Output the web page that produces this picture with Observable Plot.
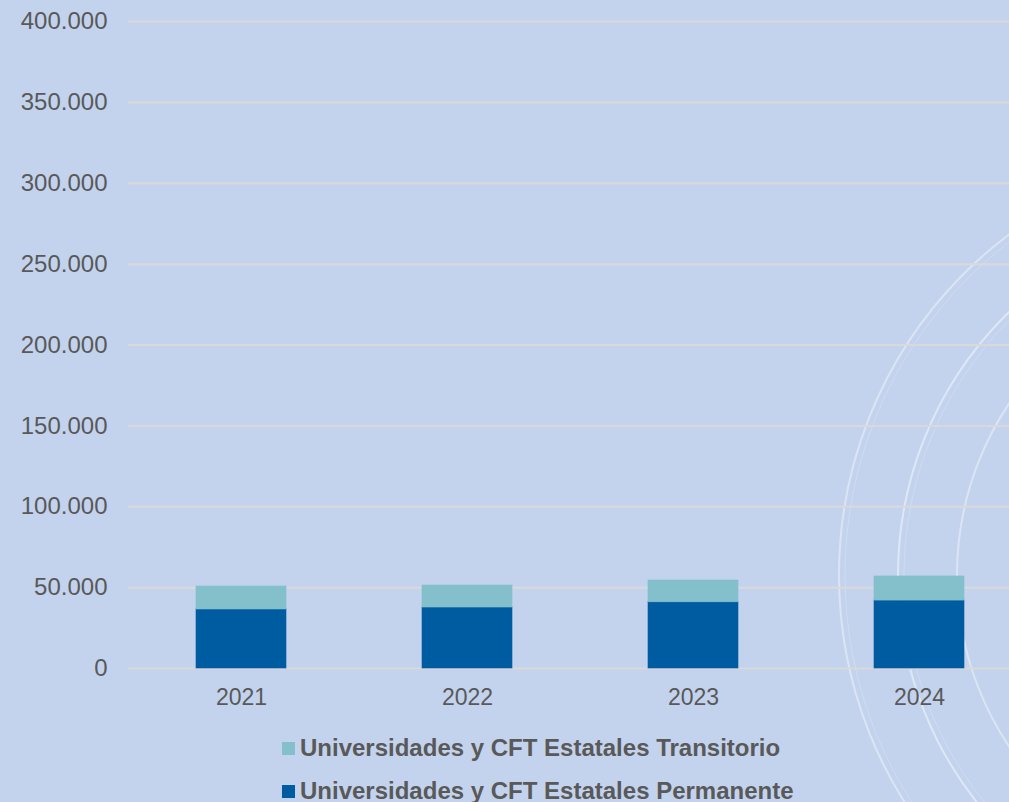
<!DOCTYPE html>
<html>
<head>
<meta charset="utf-8">
<script src="https://cdn.jsdelivr.net/npm/d3@7"></script>
<script src="https://cdn.jsdelivr.net/npm/@observablehq/plot@0.6"></script>
<style>
  html, body { margin: 0; padding: 0; }
  body { width: 1009px; height: 802px; overflow: hidden; background: #c3d3ed; position: relative;
         font-family: "Liberation Sans", Arial, sans-serif; }
  #deco { position: absolute; left: 0; top: 0; }
  #chart { position: absolute; left: 0; top: 0; }
  #legend { position: absolute; left: 282px; top: 736px; color: #595959; font-weight: bold; font-size: 24px; }
  .row { display: flex; align-items: center; height: 24px; margin-bottom: 19px; white-space: nowrap; }
  .sw { width: 13px; height: 13px; margin-right: 5px; flex: none; }
</style>
</head>
<body>
<svg id="deco" width="1009" height="802"></svg>
<div id="chart"></div>
<div id="legend"></div>
<script>
const years = ["2021", "2022", "2023", "2024"];
const seriesNames = ["Universidades y CFT Estatales Permanente", "Universidades y CFT Estatales Transitorio"];
const permanente = [36500, 37700, 41000, 42000];
const transitorio = [14200, 13600, 13400, 14900];
const yTicks = [0, 50000, 100000, 150000, 200000, 250000, 300000, 350000, 400000];
const colors = { [seriesNames[0]]: "#005ca1", [seriesNames[1]]: "#83c0cc" };

const data = [];
years.forEach((y, i) => {
  data.push({ year: y, series: seriesNames[0], value: permanente[i] });
  data.push({ year: y, series: seriesNames[1], value: transitorio[i] });
});

const fmt = d => d3.format(",")(d).replace(/,/g, ".");

// decorative concentric arcs (background, not data)
const deco = d3.select("#deco");
[[426, 2, 0.4], [420, 1, 0.2], [367, 2, 0.45], [361, 1, 0.2], [308, 2, 0.4]].forEach(([r, w, o]) => {
  deco.append("circle").attr("cx", 1265).attr("cy", 575).attr("r", r)
    .attr("fill", "none").attr("stroke", "#ffffff").attr("stroke-width", w).attr("stroke-opacity", o);
});

const chart = Plot.plot({
  width: 1009,
  height: 720,
  marginLeft: 128,
  marginRight: 0,
  marginTop: 21,
  marginBottom: 52,
  style: { background: "transparent", fontFamily: "'Liberation Sans', Arial, sans-serif", fontSize: "22px", color: "#595959", overflow: "visible" },
  x: { domain: years, range: [128, 1032], paddingInner: 0.6, paddingOuter: 0.3, label: null },
  y: { domain: [0, 400000], label: null },
  color: { domain: seriesNames, range: seriesNames.map(s => colors[s]) },
  marks: [
    Plot.ruleY(yTicks, { stroke: "#d9d9d9", strokeWidth: 2, strokeOpacity: 1 }),
    Plot.barY(data, { x: "year", y: "value", fill: "series", stroke: "series", strokeOpacity: 0.6, strokeWidth: 1 }),
    Plot.axisX({ tickSize: 0, tickPadding: 20, fontSize: 23, label: null }),
    Plot.axisY({ ticks: yTicks, tickFormat: fmt, tickSize: 0, tickPadding: 21, fontSize: 24, label: null })
  ]
});
document.getElementById("chart").appendChild(chart);

const legend = d3.select("#legend");
[seriesNames[1], seriesNames[0]].forEach(s => {
  const row = legend.append("div").attr("class", "row");
  row.append("div").attr("class", "sw").style("background", colors[s]);
  row.append("span").text(s);
});
</script>
</body>
</html>
